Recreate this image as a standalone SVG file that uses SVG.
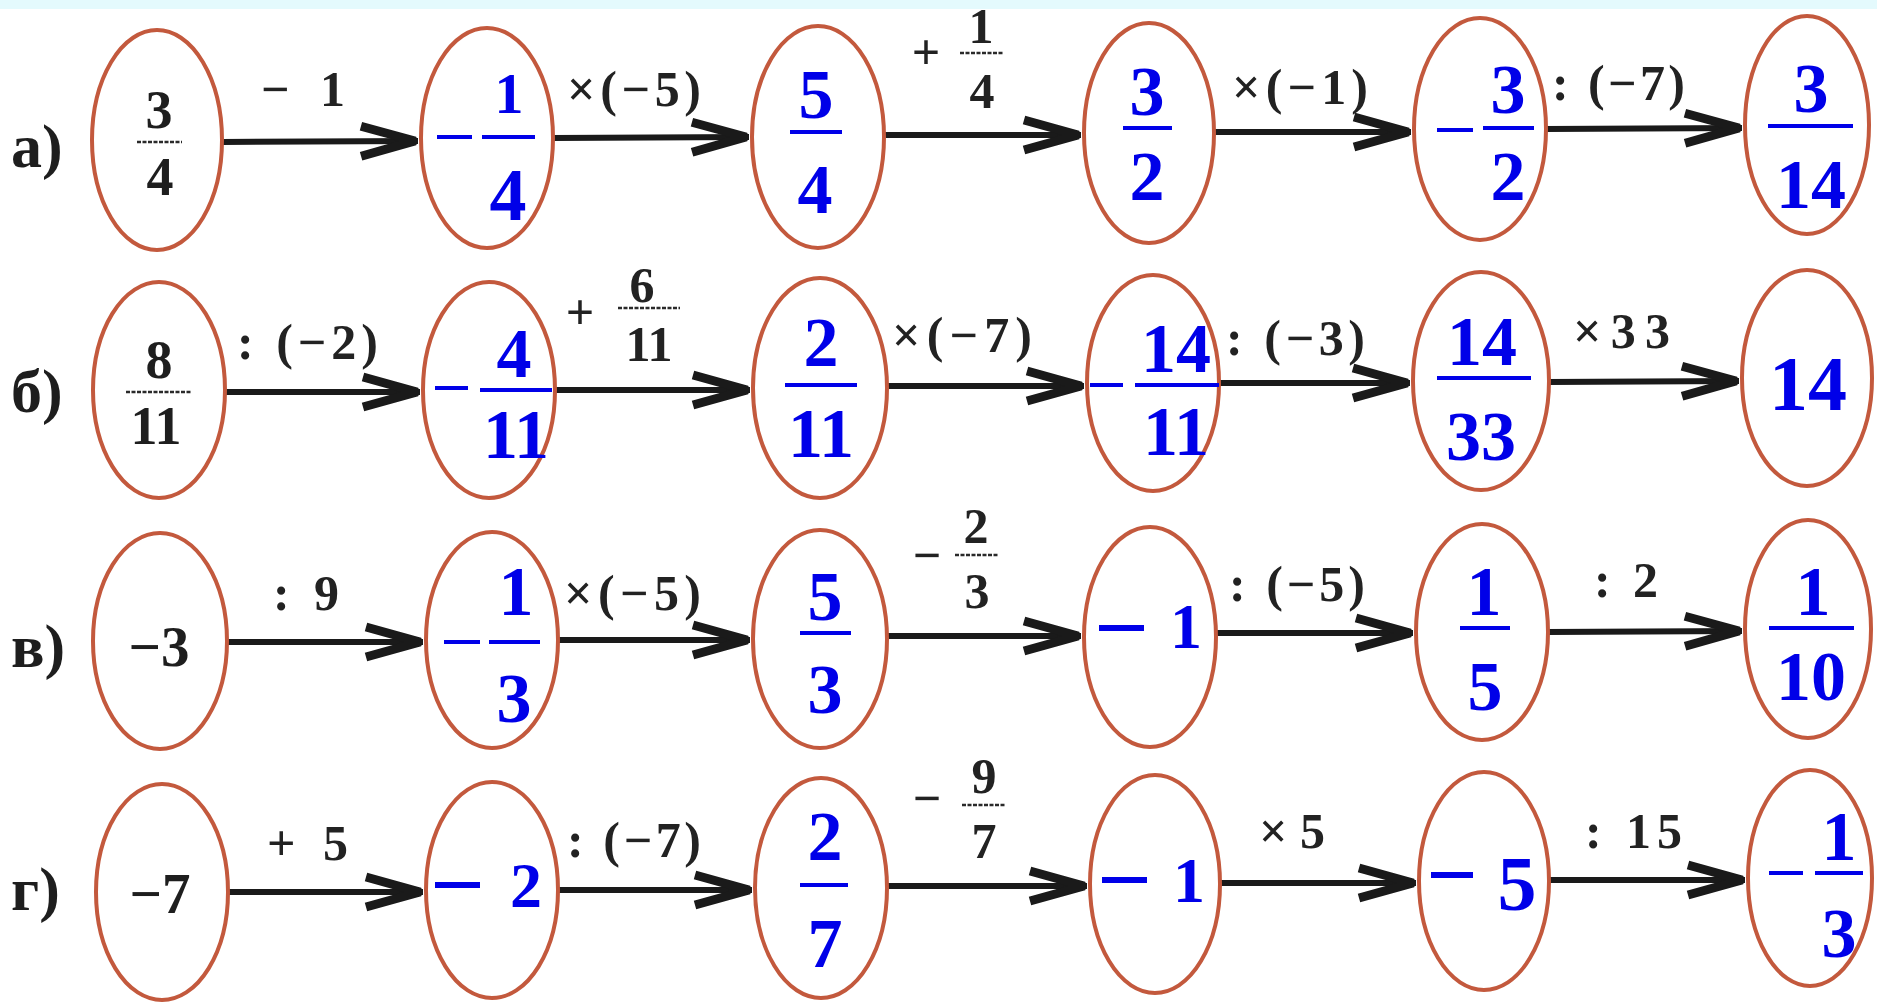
<svg xmlns="http://www.w3.org/2000/svg" width="1877" height="1002" viewBox="0 0 1877 1002">
<style>
.ell{fill:none;stroke:#c3593d;stroke-width:4}
.lbl{font-family:"Liberation Serif",serif;font-size:50px;font-weight:bold;fill:#222222}
.lm{text-anchor:middle}
.row{font-family:"Liberation Serif",serif;font-size:62px;font-weight:bold;fill:#1e1e1e}
.k{font-family:"Liberation Serif",serif;font-size:54px;font-weight:bold;fill:#1e1e1e;text-anchor:middle}
.b{font-family:"Liberation Serif",serif;font-size:70px;font-weight:bold;fill:#0000e8;text-anchor:middle}
.bar{stroke:#0000e8;stroke-width:4}
.mb{stroke:#0000e8;stroke-width:6}
.kbar{stroke:#2a2a2a;stroke-width:2.5;stroke-dasharray:4 1.5}
.conn line{stroke:#1a1a1a;stroke-width:6;marker-end:url(#arr)}
</style>
<defs>
<marker id="arr" markerUnits="userSpaceOnUse" viewBox="-60 -22 66 44" refX="3" refY="0" markerWidth="66" markerHeight="44" orient="auto" overflow="visible">
<path d="M-52.8,-19.3 L1.2,-4.3 L3,0 L1.2,4.3 L-52.8,19.3 L-55.2,10.7 L-16.6,0 L-55.2,-10.7 Z" fill="#1a1a1a"/>
</marker>
</defs>
<rect x="0" y="0" width="1877" height="1002" fill="#ffffff"/>
<rect x="0" y="0" width="1877" height="9" fill="#e4fafd"/>

<g id="row-labels">
<text class="row" x="11" y="167">а)</text>
<text class="row" x="11" y="412">б)</text>
<text class="row" x="11" y="667">в)</text>
<text class="row" x="11" y="910">г)</text>
</g>

<g id="connectors" class="conn">
<line x1="222" y1="142" x2="418" y2="141"/>
<line x1="553" y1="138" x2="749" y2="137"/>
<line x1="884" y1="135" x2="1081" y2="135"/>
<line x1="1214" y1="132" x2="1411" y2="132"/>
<line x1="1546" y1="129" x2="1742" y2="128"/>
<line x1="225" y1="392" x2="420" y2="392"/>
<line x1="555" y1="390" x2="750" y2="390"/>
<line x1="887" y1="386" x2="1084" y2="386"/>
<line x1="1219" y1="383" x2="1410" y2="383"/>
<line x1="1549" y1="382" x2="1739" y2="381"/>
<line x1="227" y1="642" x2="423" y2="642"/>
<line x1="558" y1="640" x2="750" y2="640"/>
<line x1="887" y1="636" x2="1081" y2="636"/>
<line x1="1216" y1="633" x2="1413" y2="633"/>
<line x1="1548" y1="632" x2="1742" y2="631"/>
<line x1="228" y1="892" x2="423" y2="892"/>
<line x1="558" y1="890" x2="752" y2="890"/>
<line x1="887" y1="886" x2="1087" y2="886"/>
<line x1="1220" y1="883" x2="1416" y2="883"/>
<line x1="1549" y1="880" x2="1745" y2="880"/>
</g>

<g id="connector-labels">
<text class="lbl" x="261" y="106" textLength="84" lengthAdjust="spacing">− 1</text>
<text class="lbl" x="567" y="106" textLength="134" lengthAdjust="spacing">×(−5)</text>
<g>
<text class="lbl lm" x="926" y="69">+</text>
<text class="lbl lm" x="981" y="43">1</text>
<line class="kbar" x1="960" y1="53" x2="1003" y2="53"/>
<text class="lbl lm" x="982" y="108">4</text>
</g>
<text class="lbl" x="1232" y="104" textLength="136" lengthAdjust="spacing">×(−1)</text>
<text class="lbl" x="1552" y="100" textLength="133" lengthAdjust="spacing">: (−7)</text>

<text class="lbl" x="237" y="359" textLength="141" lengthAdjust="spacing">: (−2)</text>
<g>
<text class="lbl lm" x="580" y="329">+</text>
<text class="lbl lm" x="642" y="302">6</text>
<line class="kbar" x1="618" y1="308" x2="680" y2="308"/>
<text class="lbl lm" x="649" y="361">11</text>
</g>
<text class="lbl" x="892" y="352" textLength="140" lengthAdjust="spacing">×(−7)</text>
<text class="lbl" x="1226" y="355" textLength="139" lengthAdjust="spacing">: (−3)</text>
<text class="lbl" x="1573" y="348" textLength="97" lengthAdjust="spacing">×33</text>

<text class="lbl" x="273" y="610" textLength="66" lengthAdjust="spacing">: 9</text>
<text class="lbl" x="564" y="610" textLength="137" lengthAdjust="spacing">×(−5)</text>
<g>
<text class="lbl lm" x="927" y="572">−</text>
<text class="lbl lm" x="976" y="543">2</text>
<line class="kbar" x1="955" y1="555" x2="998" y2="555"/>
<text class="lbl lm" x="977" y="608">3</text>
</g>
<text class="lbl" x="1229" y="601" textLength="136" lengthAdjust="spacing">: (−5)</text>
<text class="lbl" x="1594" y="597" textLength="64" lengthAdjust="spacing">: 2</text>

<text class="lbl" x="267" y="860" textLength="81" lengthAdjust="spacing">+ 5</text>
<text class="lbl" x="567" y="857" textLength="134" lengthAdjust="spacing">: (−7)</text>
<g>
<text class="lbl lm" x="927" y="815">−</text>
<text class="lbl lm" x="984" y="793">9</text>
<line class="kbar" x1="962" y1="805" x2="1005" y2="805"/>
<text class="lbl lm" x="984" y="858">7</text>
</g>
<text class="lbl" x="1259" y="848" textLength="66" lengthAdjust="spacing">×5</text>
<text class="lbl" x="1585" y="848" textLength="97" lengthAdjust="spacing">: 15</text>
</g>

<!-- Row a -->
<g id="a1">
<ellipse class="ell" cx="157" cy="140" rx="65" ry="110"/>
<text class="k" x="159" y="128">3</text>
<line class="kbar" x1="137" y1="142" x2="182" y2="142"/>
<text class="k" x="160" y="195">4</text>
</g>
<g id="a2">
<ellipse class="ell" cx="487" cy="138" rx="66" ry="110"/>
<line class="bar" x1="437" y1="137" x2="472" y2="137"/>
<text class="b" x="509" y="113" style="font-size:58px">1</text>
<line class="bar" x1="482" y1="137" x2="535" y2="137"/>
<text class="b" x="508" y="220" style="font-size:74px">4</text>
</g>
<g id="a3">
<ellipse class="ell" cx="818" cy="137" rx="66" ry="111"/>
<text class="b" x="816" y="118">5</text>
<line class="bar" x1="790" y1="132" x2="842" y2="132"/>
<text class="b" x="815" y="213">4</text>
</g>
<g id="a4">
<ellipse class="ell" cx="1149" cy="133" rx="65" ry="110"/>
<text class="b" x="1147" y="115">3</text>
<line class="bar" x1="1123" y1="128" x2="1172" y2="128"/>
<text class="b" x="1147" y="200">2</text>
</g>
<g id="a5">
<ellipse class="ell" cx="1480" cy="129" rx="66" ry="111"/>
<line class="bar" x1="1437" y1="130" x2="1473" y2="130"/>
<text class="b" x="1508" y="113">3</text>
<line class="bar" x1="1483" y1="128" x2="1534" y2="128"/>
<text class="b" x="1508" y="200">2</text>
</g>
<g id="a6">
<ellipse class="ell" cx="1807" cy="125" rx="62" ry="109"/>
<text class="b" x="1811" y="112">3</text>
<line class="bar" x1="1768" y1="126" x2="1853" y2="126"/>
<text class="b" x="1811" y="208">14</text>
</g>

<!-- Row b -->
<g id="b1">
<ellipse class="ell" cx="159" cy="390" rx="66" ry="108"/>
<text class="k" x="159" y="378">8</text>
<line class="kbar" x1="126" y1="392" x2="192" y2="392"/>
<text class="k" x="156" y="444">11</text>
</g>
<g id="b2">
<ellipse class="ell" cx="489" cy="390" rx="66" ry="108"/>
<line class="bar" x1="435" y1="388" x2="468" y2="388"/>
<text class="b" x="514" y="377">4</text>
<line class="bar" x1="480" y1="390" x2="552" y2="390"/>
<text class="b" x="516" y="458">11</text>
</g>
<g id="b3">
<ellipse class="ell" cx="820" cy="388" rx="67" ry="110"/>
<text class="b" x="821" y="366">2</text>
<line class="bar" x1="785" y1="385" x2="857" y2="385"/>
<text class="b" x="821" y="457">11</text>
</g>
<g id="b4">
<ellipse class="ell" cx="1153" cy="383" rx="66" ry="108"/>
<line class="bar" x1="1090" y1="385" x2="1123" y2="385"/>
<text class="b" x="1176" y="372">14</text>
<line class="bar" x1="1135" y1="385" x2="1219" y2="385"/>
<text class="b" x="1176" y="455">11</text>
</g>
<g id="b5">
<ellipse class="ell" cx="1481" cy="381" rx="68" ry="109"/>
<text class="b" x="1482" y="365">14</text>
<line class="bar" x1="1437" y1="378" x2="1531" y2="378"/>
<text class="b" x="1481" y="460">33</text>
</g>
<g id="b6">
<ellipse class="ell" cx="1807" cy="378" rx="65" ry="108"/>
<text class="b" x="1808" y="410" style="font-size:78px">14</text>
</g>

<!-- Row c -->
<g id="c1">
<ellipse class="ell" cx="160" cy="641" rx="67" ry="108"/>
<text class="k" x="159" y="666" style="font-size:57px">−3</text>
</g>
<g id="c2">
<ellipse class="ell" cx="492" cy="640" rx="66" ry="108"/>
<line class="bar" x1="444" y1="642" x2="480" y2="642"/>
<text class="b" x="516" y="615">1</text>
<line class="bar" x1="489" y1="642" x2="540" y2="642"/>
<text class="b" x="514" y="722">3</text>
</g>
<g id="c3">
<ellipse class="ell" cx="820" cy="639" rx="67" ry="109"/>
<text class="b" x="825" y="620">5</text>
<line class="bar" x1="800" y1="633" x2="851" y2="633"/>
<text class="b" x="825" y="713">3</text>
</g>
<g id="c4">
<ellipse class="ell" cx="1150" cy="637" rx="66" ry="110"/>
<line class="mb" x1="1099" y1="628" x2="1144" y2="628"/>
<text class="b" x="1186" y="648" style="font-size:64px">1</text>
</g>
<g id="c5">
<ellipse class="ell" cx="1482" cy="632" rx="66" ry="108"/>
<text class="b" x="1484" y="615">1</text>
<line class="bar" x1="1460" y1="628" x2="1510" y2="628"/>
<text class="b" x="1485" y="710">5</text>
</g>
<g id="c6">
<ellipse class="ell" cx="1808" cy="629" rx="63" ry="109"/>
<text class="b" x="1813" y="615">1</text>
<line class="bar" x1="1769" y1="628" x2="1854" y2="628"/>
<text class="b" x="1811" y="700">10</text>
</g>

<!-- Row d -->
<g id="d1">
<ellipse class="ell" cx="162" cy="892" rx="66" ry="108"/>
<text class="k" x="160" y="913" style="font-size:57px">−7</text>
</g>
<g id="d2">
<ellipse class="ell" cx="492" cy="890" rx="66" ry="108"/>
<line class="mb" x1="435" y1="885" x2="480" y2="885"/>
<text class="b" x="526" y="907" style="font-size:64px">2</text>
</g>
<g id="d3">
<ellipse class="ell" cx="821" cy="888" rx="66" ry="110"/>
<text class="b" x="825" y="860">2</text>
<line class="bar" x1="800" y1="885" x2="848" y2="885"/>
<text class="b" x="825" y="967">7</text>
</g>
<g id="d4">
<ellipse class="ell" cx="1155" cy="884" rx="65" ry="109"/>
<line class="mb" x1="1102" y1="880" x2="1147" y2="880"/>
<text class="b" x="1189" y="902" style="font-size:64px">1</text>
</g>
<g id="d5">
<ellipse class="ell" cx="1484" cy="881" rx="65" ry="109"/>
<line class="mb" x1="1431" y1="875" x2="1473" y2="875"/>
<text class="b" x="1517" y="910" style="font-size:78px">5</text>
</g>
<g id="d6">
<ellipse class="ell" cx="1810" cy="878" rx="62" ry="108"/>
<line class="bar" x1="1769" y1="873" x2="1803" y2="873"/>
<text class="b" x="1839" y="860">1</text>
<line class="bar" x1="1815" y1="873" x2="1863" y2="873"/>
<text class="b" x="1839" y="957">3</text>
</g>
</svg>
